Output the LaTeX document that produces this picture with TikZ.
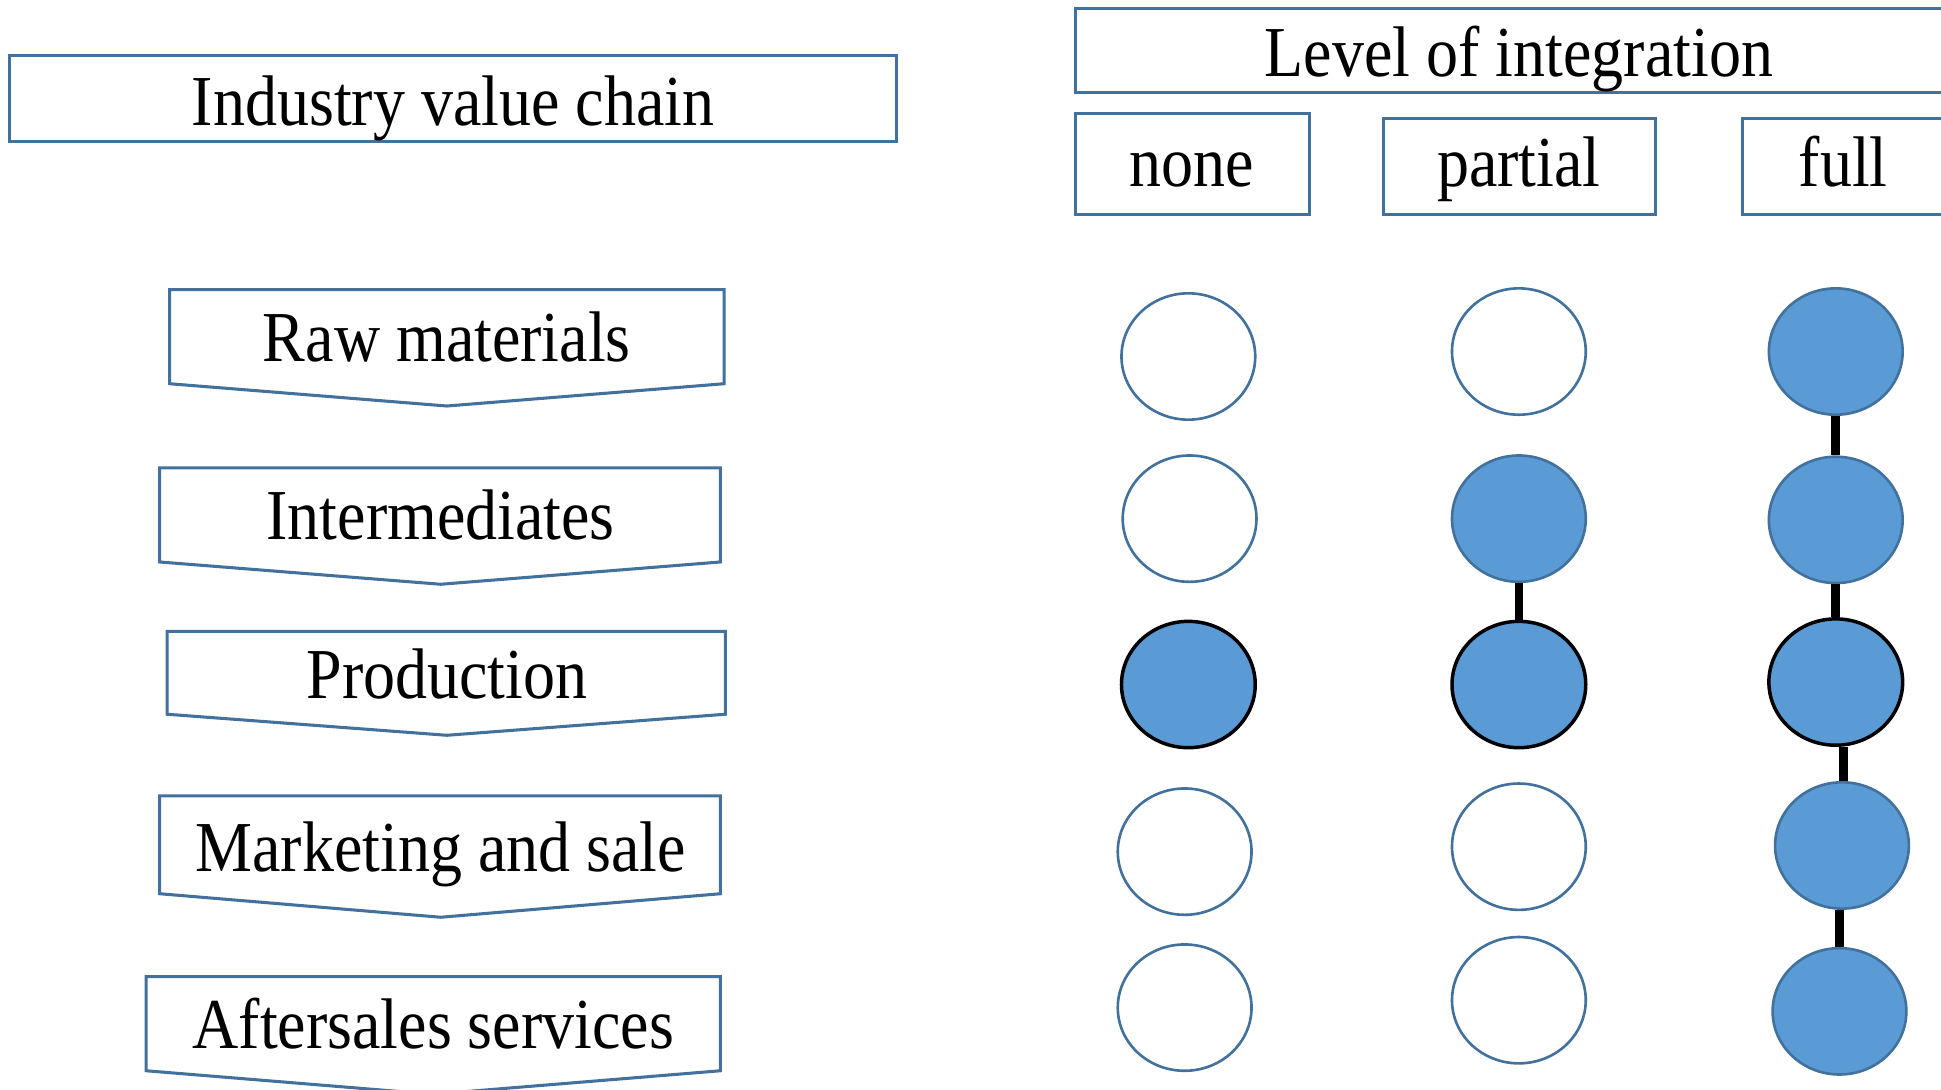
\documentclass[tikz,border=0pt]{standalone}
\usepackage{fontspec}
\setmainfont{Liberation Serif}
\usetikzlibrary{shapes.geometric}
\definecolor{edgeblue}{HTML}{41719C}
\definecolor{fillblue}{HTML}{5B9BD5}
\newcommand\stretchtxt[1]{\scalebox{1}[1.12]{#1}}
\newcommand\chainbox[9]{%
  \draw[frame] (#2,#4) -- (#3,#4) -- (#3,#5) -- (#6,#7) -- (#2,#5) -- cycle;
  \node[lbl] (#1) at (#6,#8) {\stretchtxt{#9}};
}
\tikzset{
  lbl/.style={font=\fontsize{14.7}{17}\selectfont, inner sep=0pt, anchor=base},
  frame/.style={draw=edgeblue, line width=0.7pt, line join=miter},
  dotempty/.style={ellipse, draw=edgeblue, line width=0.6pt, fill=white, minimum width=1.08cm, minimum height=1.02cm, inner sep=0pt},
  dotfull/.style={dotempty, fill=fillblue},
  dotcore/.style={dotfull, draw=black, line width=0.8pt},
  link/.style={line width=2pt, black},
}
\begin{document}
\begin{tikzpicture}[x=0.01cm,y=-0.01cm]
\clip (0,0) rectangle (1568,880);
\fill[white] (0,0) rectangle (1568,880);

% headers
\draw[frame] (8,45) rectangle (724,114);
\node[lbl] (tchain) at (366,101) {\stretchtxt{Industry value chain}};
\draw[frame] (869,7) rectangle (1590,75);
\node[lbl] (tlevel) at (1227,62) {\stretchtxt{Level of integration}};
\draw[frame] (869,92) rectangle (1058,173);
\node[lbl] (tnone) at (963,151) {\stretchtxt{none}};
\draw[frame] (1118,96) rectangle (1337,173);
\node[lbl] (tpartial) at (1227,151) {\stretchtxt{partial}};
\draw[frame] (1408,96) rectangle (1590,173);
\node[lbl] (tfull) at (1489,151) {\stretchtxt{full}};

% value chain steps
\chainbox{raw}{137}{585}{234}{310}{361}{328}{292}{Raw materials}
\chainbox{inter}{129}{582}{378}{454}{356}{472}{436}{Intermediates}
\chainbox{prod}{135}{586}{510}{577}{361}{594}{564}{Production}
\chainbox{mark}{129}{582}{643}{722}{356}{741}{704}{Marketing and sale}
\chainbox{after}{118}{582}{789}{865}{350}{884}{847}{Aftersales services}

% none column
\node[dotempty] (n1) at (960,288) {};
\node[dotempty] (n2) at (961,419) {};
\node[dotcore]  (n3) at (960,553) {};
\node[dotempty] (n4) at (957,688) {};
\node[dotempty] (n5) at (957,814) {};

% partial column
\node[dotempty] (p1) at (1227,284) {};
\node[dotfull]  (p2) at (1227,419) {};
\node[dotcore]  (p3) at (1227,553) {};
\node[dotempty] (p4) at (1227,684) {};
\node[dotempty] (p5) at (1227,808) {};

% full column
\node[dotfull] (f1) at (1483,284) {};
\node[dotfull] (f2) at (1483,420) {};
\node[dotcore] (f3) at (1483,551) {};
\node[dotfull] (f4) at (1488,683) {};
\node[dotfull] (f5) at (1486,817) {};

% connectors
\draw[link] (p2.south) -- (p3.north);
\draw[link] (f1.south) -- (f2.north);
\draw[link] (f2.south) -- (f3.north);
\draw[link] ([xshift=0.06cm]f3.south) -- ([xshift=0.06cm]f3.south |- f4.north);
\draw[link] (f5.north |- f4.south) -- (f5.north);
\end{tikzpicture}
\end{document}
